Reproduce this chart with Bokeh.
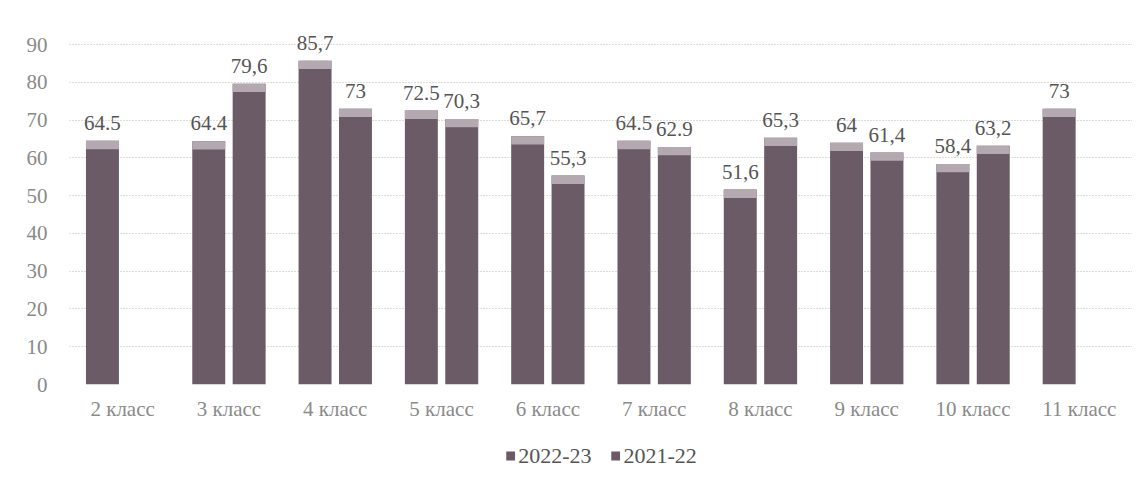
import numpy as np
from bokeh.plotting import figure
from bokeh.layouts import column
from bokeh.models import ColumnDataSource, FactorRange, FixedTicker, Legend, LegendItem, Range1d
from bokeh.transform import dodge
from bokeh.core.properties import value
from bokeh.embed import file_html
from bokeh.resources import INLINE

categories = ["2 класс", "3 класс", "4 класс", "5 класс", "6 класс",
              "7 класс", "8 класс", "9 класс", "10 класс", "11 класс"]
series_names = ["2022-23", "2021-22"]
s2022 = [64.5, 64.4, 85.7, 72.5, 65.7, 64.5, 51.6, 64, 58.4, 73]
s2021 = [np.nan, 79.6, 73, 70.3, 55.3, 62.9, 65.3, 61.4, 63.2, np.nan]
lab2022 = ["64.5", "64.4", "85,7", "72.5", "65,7", "64.5", "51,6", "64", "58,4", "73"]
lab2021 = ["", "79,6", "73", "70,3", "55,3", "62.9", "65,3", "61,4", "63,2", ""]
yticks = [0, 10, 20, 30, 40, 50, 60, 70, 80, 90]

BAR = "#6a5b66"
HI = "#b5a9b1"
FONT = "Liberation Serif"

src = ColumnDataSource(dict(
    cat=categories,
    a=s2022, b=s2021,
    a_hi=[v - 2.2 for v in s2022], b_hi=[v - 2.2 for v in s2021],
    la=lab2022, lb=lab2021,
))

p = figure(x_range=FactorRange(*categories, range_padding=0), y_range=Range1d(0, 99),
           width=1132, height=430, output_backend="svg", toolbar_location=None,
           min_border_left=69, min_border_right=0, min_border_top=10, min_border_bottom=46)

off = 0.19
w = 0.31
r1 = p.vbar(x=dodge("cat", -off, range=p.x_range), top="a", width=w, source=src,
            fill_color=BAR, line_color=None)
r2 = p.vbar(x=dodge("cat", off, range=p.x_range), top="b", width=w, source=src,
            fill_color=BAR, line_color=None)
p.vbar(x=dodge("cat", -off, range=p.x_range), top="a", bottom="a_hi", width=w, source=src,
       fill_color=HI, line_color=None)
p.vbar(x=dodge("cat", off, range=p.x_range), top="b", bottom="b_hi", width=w, source=src,
       fill_color=HI, line_color=None)

p.text(x=dodge("cat", -off, range=p.x_range), y="a", text="la", source=src,
       text_align="center", text_baseline="bottom", y_offset=-11,
       text_font=value(FONT), text_font_size="21px", text_color="#555555")
p.text(x=dodge("cat", off, range=p.x_range), y="b", text="lb", source=src,
       text_align="center", text_baseline="bottom", y_offset=-11,
       text_font=value(FONT), text_font_size="21px", text_color="#555555")

p.yaxis.ticker = FixedTicker(ticks=yticks)
p.ygrid.ticker = FixedTicker(ticks=yticks)
p.xgrid.grid_line_color = None
p.ygrid.grid_line_color = "#bbbbbb"
p.ygrid.grid_line_dash = "1 2"
p.outline_line_color = None

for ax in (p.xaxis, p.yaxis):
    ax.axis_line_color = None
    ax.major_tick_line_color = None
    ax.minor_tick_line_color = None
    ax.major_label_text_font = FONT
    ax.major_label_text_color = "#8a8a8a"
p.yaxis.major_label_text_font_size = "21px"
p.xaxis.major_label_text_font_size = "21px"
p.yaxis.major_label_standoff = 16
p.xaxis.major_label_standoff = 6

# legend panel (legend swatches only; the dummy glyphs lie outside the visible range)
lg = figure(width=1132, height=51, output_backend="svg", toolbar_location=None,
            x_range=Range1d(0, 1), y_range=Range1d(0, 1),
            min_border=0)
lg.axis.visible = False
lg.grid.visible = False
lg.outline_line_color = None
dummy = ColumnDataSource(dict(x=[-5.0], top=[-5.0]))
l1 = lg.vbar(x="x", top="top", bottom=-6, width=0.1, source=dummy, fill_color=BAR, line_color=None)
l2 = lg.vbar(x="x", top="top", bottom=-6, width=0.1, source=dummy, fill_color=BAR, line_color=None)
legend = Legend(items=[LegendItem(label=series_names[0], renderers=[l1]),
                       LegendItem(label=series_names[1], renderers=[l2])],
                orientation="horizontal", location="center",
                label_text_font=FONT, label_text_font_size="22px", label_text_color="#555555",
                glyph_width=11, glyph_height=11, spacing=18, label_standoff=3,
                border_line_color=None, background_fill_alpha=0, margin=0, padding=2)
lg.add_layout(legend)

layout = column(p, lg, spacing=0)
open("out.html", "w").write(file_html(layout, INLINE))
